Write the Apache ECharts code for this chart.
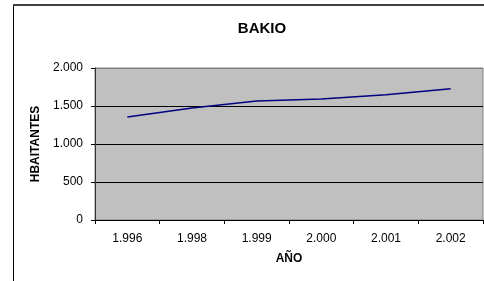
<!DOCTYPE html>
<html>
<head>
<meta charset="utf-8">
<script src="https://cdn.jsdelivr.net/npm/echarts@6/dist/echarts.min.js"></script>
<style>
html,body{margin:0;padding:0;background:#fff;}
#chart{width:484px;height:281px;}
</style>
</head>
<body>
<div id="chart"></div>
<script>
// datos de poblacion de Bakio
var years=['1.996','1.998','1.999','2.000','2.001','2.002'];
var habitantes=[1355,1474,1566,1592,1649,1728];
var yTicks=[0,500,1000,1500,2000];

function fmtNum(v){
	//separador de miles con punto
	return String(v).replace(/\B(?=(\d{3})+(?!\d))/g,'.');
}

var chart=echarts.init(document.getElementById('chart'));
var font='"Liberation Sans", Arial, sans-serif';

var option={
	animation:false,
	backgroundColor:'#fff',
	title:{
		text:'BAKIO',
		left:257,
		top:16,
		textAlign:'center',
		textStyle:{fontFamily:font,fontSize:15,fontWeight:'bold',color:'#000'}
	},
	grid:{
		left:95,right:1,top:68,bottom:61,
		show:true,
		backgroundColor:'#c0c0c0',
		borderColor:'#808080',
		borderWidth:1
	},
	xAxis:{
		type:'category',
		data:years,
		boundaryGap:true,
		name:'AÑO',
		nameLocation:'middle',
		nameGap:33,
		nameTextStyle:{fontFamily:font,fontSize:12,fontWeight:'bold',color:'#000'},
		axisLine:{lineStyle:{color:'#000',width:1}},
		axisTick:{show:true,length:4,lineStyle:{color:'#000'}},
		axisLabel:{fontFamily:font,fontSize:12,color:'#000',margin:13}
	},
	yAxis:{
		type:'value',
		min:yTicks[0],
		max:yTicks[yTicks.length-1],
		interval:500,
		name:'HBAITANTES',
		nameLocation:'middle',
		nameGap:48,
		nameRotate:90,
		nameTextStyle:{fontFamily:font,fontSize:12,fontWeight:'bold',color:'#000'},
		axisLine:{show:true,lineStyle:{color:'#333',width:1}},
		axisTick:{show:true,length:4,lineStyle:{color:'#000'}},
		axisLabel:{fontFamily:font,fontSize:12,color:'#000',margin:12,formatter:fmtNum},
		splitLine:{show:true,lineStyle:{color:['#000','#000','#000','#000','#808080'],width:1}}
	},
	series:[{
		name:'HBAITANTES',
		type:'line',
		data:habitantes,
		symbol:'none',
		lineStyle:{color:'#000080',width:1.5},
		itemStyle:{color:'#000080'}
	}],
	graphic:[
		{type:'line',shape:{x1:13.5,y1:4,x2:13.5,y2:281},style:{stroke:'#000',lineWidth:1}},
		{type:'line',shape:{x1:13,y1:5,x2:484,y2:5},style:{stroke:'#404040',lineWidth:2}}
	]
};
chart.setOption(option);
</script>
</body>
</html>
